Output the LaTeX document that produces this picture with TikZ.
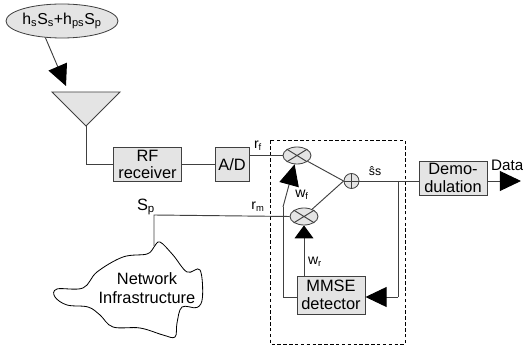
\documentclass[tikz,border=0pt]{standalone}
\usepackage{fontspec}
\setmainfont{Liberation Sans}
\usetikzlibrary{arrows.meta,shapes.geometric}
\definecolor{boxgray}{HTML}{E4E4E4}
\definecolor{edgegray}{HTML}{404040}
\begin{document}
\begin{tikzpicture}[
    x=0.03cm, y=-0.03cm,
    block/.style={rectangle, draw=edgegray, fill=boxgray, line width=0.8pt, inner sep=0pt, align=center, font=\fontsize{14}{15}\selectfont},
    mixer/.style={ellipse, draw=edgegray, fill=boxgray, line width=0.7pt, minimum width=0.84cm, minimum height=0.51cm, inner sep=0pt},
    adder/.style={circle, draw=edgegray, fill=boxgray, line width=0.7pt, minimum size=0.45cm, inner sep=0pt},
    wire/.style={draw=edgegray, line width=0.8pt},
    bigtip/.style={-{Triangle[length=18pt,width=17pt,color=black]}, draw=edgegray, line width=0.8pt},
    shorttip/.style={-{Triangle[length=11pt,width=16pt,color=black]}, draw=edgegray, line width=0.8pt},
    lbl/.style={inner sep=0pt, font=\fontsize{12}{14}\selectfont},
    txt/.style={inner sep=0pt, align=center, font=\fontsize{14}{16}\selectfont}
]
    \useasboundingbox (0,0) rectangle (523,349);

    % Quelle und Antenne
    \node[ellipse, draw=edgegray, fill=boxgray, line width=0.7pt, minimum width=3.09cm, minimum height=1.02cm, inner sep=0pt, font=\fontsize{13.5}{15}\selectfont] (src) at (62,21) {h\textsubscript{s}S\textsubscript{s}+h\textsubscript{ps}S\textsubscript{p}};
    \coordinate (anttop) at (66,86);
    \coordinate (anttip) at (86,126);
    \draw[wire, fill=boxgray] (52,92) -- (120,92) -- (anttip) -- cycle;
    \draw[bigtip] (src.225) -- (anttop);

    % Bloecke
    \node[block, minimum width=2.04cm, minimum height=1.02cm] (rf) at (147.5,164.5) {RF\\receiver};
    \node[block, minimum width=1.02cm, minimum height=1.02cm] (ad) at (232,164.5) {A/D};
    \node[block, minimum width=2.04cm, minimum height=1.02cm] (demod) at (453,178) {Demo-\\dulation};
    \node[block, minimum width=2.04cm, minimum height=1.14cm] (mmse) at (331,295) {MMSE\\detector};

    % Mischer und Addierer
    \node[mixer] (mixu) at (297,155.5) {};
    \node[mixer] (mixd) at (304,216.5) {};
    \node[adder] (sumn) at (351.5,181) {};
    \draw[wire] (mixu.north west) -- (mixu.south east) (mixu.north east) -- (mixu.south west);
    \draw[wire] (mixd.north west) -- (mixd.south east) (mixd.north east) -- (mixd.south west);
    \draw[wire] (sumn.north) -- (sumn.south) (sumn.west) -- (sumn.east);

    % Gestrichelter Rahmen
    \draw[densely dashed, line width=0.7pt] (270,140.5) rectangle (405.5,344);

    % Netz
    \draw[line width=0.7pt, fill=white] plot[smooth cycle, tension=0.6] coordinates {
        (160,42+200) (173,55+200) (187,72+200) (200,70+200) (202.5,97+200) (197,107.5+200)
        (182,107+200) (177,123+200) (175,137+200) (163,135+200) (140,128+200) (113,127+200)
        (100,115+200) (88,107+200) (67,105+200) (55,97+200) (57,89+200) (83,88+200)
        (97,72+200) (123,57+200) (147,54+200) (154,47+200)};
    \node[txt] (net) at (147,288.5) {Network\\Infrastructure};
    \coordinate (cloudtop) at (154,246);
    \coordinate (spcorner) at (154,215);

    % Verbindungen
    \draw[wire] (anttip) |- (rf.west);
    \draw[wire] (rf.east |- ad.west) -- (ad.west);
    \draw[wire] (ad.east |- mixu.west) -- (mixu.west);
    \draw[wire] (cloudtop) -- (spcorner) -- (mixd.west);
    \draw[wire] (mixu) -- (sumn.west);
    \draw[wire] (mixd) -- (sumn.west);
    \draw[wire] (sumn.east) -- (sumn.east -| demod.west);
    \coordinate (data) at (521,181);
    \draw[bigtip] (demod.east |- data) -- (data);

    % Rueckkopplung
    \coordinate (fbtop) at (398,181);
    \coordinate (wfbend) at (283,297);
    \coordinate (wftop) at (283,207);
    \draw[wire] (fbtop) -- (398,297);
    \draw[bigtip] (398,297) -- (mmse.east |- 0,297);
    \draw[shorttip] (mixd |- mmse.north) -- (mixd.south);
    \draw[wire] (mmse.west |- wfbend) -- (wfbend) -- (wftop);
    \draw[bigtip] (wftop) -- (mixu);

    % Beschriftungen
    \node[lbl] (rflbl) at (258,146) {r\textsubscript{f}};
    \node[lbl] (rmlbl) at (258,207) {r\textsubscript{m}};
    \node[lbl, font=\fontsize{14}{16}\selectfont] (splbl) at (146,207) {S\textsubscript{p}};
    \node[lbl] (wflbl) at (302,195) {w\textsubscript{f}};
    \node[lbl] (wrlbl) at (315,262) {w\textsubscript{r}};
    \node[lbl, font=\fontsize{10.5}{12}\selectfont] (shat) at (375,171) {\^{s}s};
    \node[lbl, anchor=west, font=\fontsize{13}{15}\selectfont] (datalbl) at (491,165) {Data};
\end{tikzpicture}
\end{document}
